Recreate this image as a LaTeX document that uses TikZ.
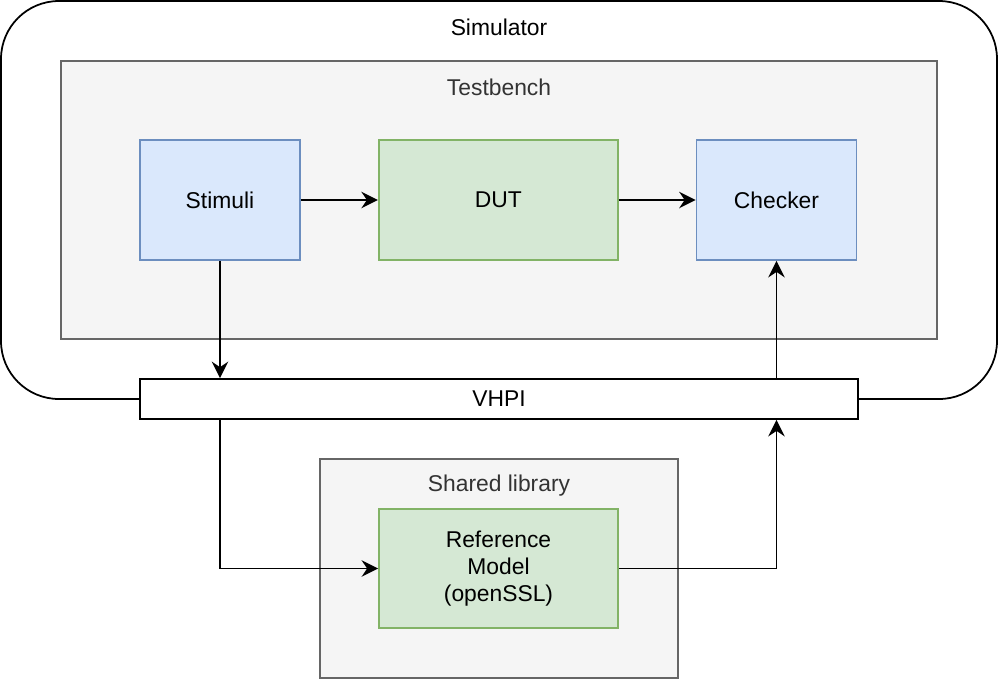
\documentclass[tikz,border=0pt]{standalone}
\usepackage{fontspec}
\setmainfont{Liberation Sans}
\usetikzlibrary{arrows.meta, backgrounds, positioning, calc}
\definecolor{bluefill}{HTML}{DAE8FC}
\definecolor{blueborder}{HTML}{6C8EBF}
\definecolor{greenfill}{HTML}{D5E8D4}
\definecolor{greenborder}{HTML}{82B366}
\definecolor{panelfill}{HTML}{F5F5F5}
\definecolor{panelborder}{HTML}{666666}
\definecolor{paneltext}{HTML}{333333}
\tikzset{
  block/.style={rectangle, align=center, line width=1pt, minimum height=2.4cm,
                font=\fontsize{13}{15.5}\selectfont, inner sep=2pt},
  tbblock/.style={block, fill=bluefill, draw=blueborder, minimum width=3.2cm},
  model/.style={block, fill=greenfill, draw=greenborder, minimum width=4.78cm},
  panel/.style={rectangle, fill=panelfill, draw=panelborder, line width=1pt},
  paneltitle/.style={font=\fontsize{13}{15.5}\selectfont, text=paneltext},
  bus/.style={rectangle, fill=white, draw=black, line width=1pt,
              minimum width=14.36cm, minimum height=0.8cm,
              font=\fontsize{13}{15.5}\selectfont},
  flow/.style={-{Stealth[length=3.3mm, width=3.3mm, inset=1.1mm]},
               line width=1.1pt, draw=black},
}
\def\blockgap{1.54cm}

\begin{document}
\begin{tikzpicture}
\useasboundingbox (0,0) rectangle (20,-13.64);

% Testbench blocks
\node[tbblock] (stimuli) at (4.4,-4.0) {Stimuli};
\node[model, right=\blockgap of stimuli] (dut) {DUT};
\node[tbblock, right=\blockgap of dut] (checker) {Checker};

% Interface to the simulator
\node[bus] (vhpi) at (9.98,-7.98) {VHPI};

% Shared library content
\node[model, minimum height=2.38cm] (refmodel) at (9.97,-11.37)
  {Reference\\Model\\(openSSL)};

% Panels
\begin{scope}[on background layer]
  \node[rectangle, rounded corners=1.16cm, draw=black, line width=1pt,
        minimum width=19.92cm, minimum height=7.96cm] (sim) at (9.98,-4.0) {};
  \node[panel, minimum width=17.52cm, minimum height=5.56cm] (testbench) at (9.98,-4.0) {};
  \node[panel, minimum width=7.16cm, minimum height=4.38cm] (sharedlib) at (9.98,-11.37) {};
\end{scope}
\node[paneltitle, text=black] (simtitle) at ($(sim.north)+(0,-0.54)$) {Simulator};
\node[paneltitle] (tbtitle) at ($(testbench.north)+(0,-0.54)$) {Testbench};
\node[paneltitle] (libtitle) at ($(sharedlib.north)+(0,-0.54)$) {Shared library};

% Flow
\draw[flow] (stimuli) -- (dut);
\draw[flow] (dut) -- (checker);
\draw[flow] (stimuli) -- (stimuli |- vhpi.north);
\draw[flow] (checker |- vhpi.north) -- (checker);
\draw[flow] (stimuli |- vhpi.south) |- (refmodel.west);
\draw[flow] (refmodel.east) -| (checker |- vhpi.south);

\end{tikzpicture}
\end{document}
